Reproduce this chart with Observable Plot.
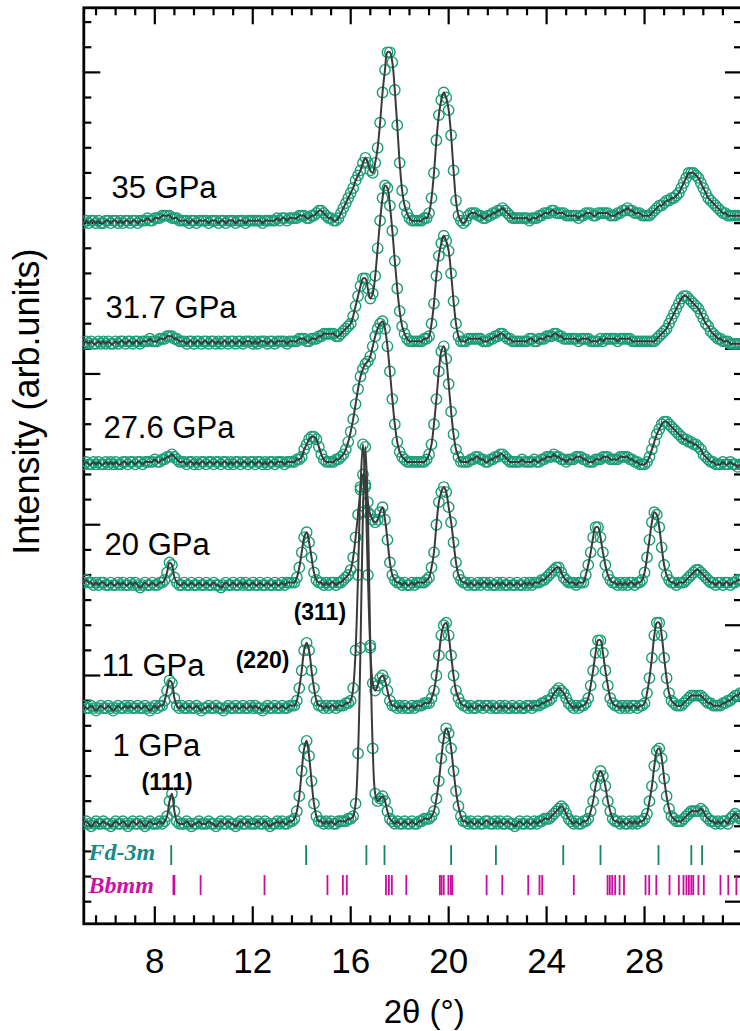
<!DOCTYPE html>
<html><head><meta charset="utf-8">
<script src="https://cdn.jsdelivr.net/npm/d3@7"></script>
<script src="https://cdn.jsdelivr.net/npm/@observablehq/plot@0.6"></script>
<style>
html,body{margin:0;padding:0;background:#fff;}
#chart{width:740px;height:1031px;overflow:hidden;}
</style></head><body><div id="chart"></div>
<script>
// measurement grid, 2θ (degrees)
const twoTheta = [
5.1,5.2,5.3,5.4,5.5,5.6,5.7,5.8,5.9,6.0,
6.1,6.2,6.3,6.4,6.5,6.6,6.7,6.8,6.9,7.0,
7.1,7.2,7.3,7.4,7.5,7.6,7.7,7.8,7.9,8.0,
8.1,8.2,8.3,8.4,8.5,8.6,8.7,8.8,8.9,9.0,
9.1,9.2,9.3,9.4,9.5,9.6,9.7,9.8,9.9,10.0,
10.1,10.2,10.3,10.4,10.5,10.6,10.7,10.8,10.9,11.0,
11.1,11.2,11.3,11.4,11.5,11.6,11.7,11.8,11.9,12.0,
12.1,12.2,12.3,12.4,12.5,12.6,12.7,12.8,12.9,13.0,
13.1,13.2,13.3,13.4,13.5,13.6,13.7,13.8,13.9,14.0,
14.1,14.2,14.3,14.4,14.5,14.6,14.7,14.8,14.9,15.0,
15.1,15.2,15.3,15.4,15.5,15.6,15.7,15.8,15.9,16.0,
16.1,16.2,16.3,16.4,16.5,16.6,16.7,16.8,16.9,17.0,
17.1,17.2,17.3,17.4,17.5,17.6,17.7,17.8,17.9,18.0,
18.1,18.2,18.3,18.4,18.5,18.6,18.7,18.8,18.9,19.0,
19.1,19.2,19.3,19.4,19.5,19.6,19.7,19.8,19.9,20.0,
20.1,20.2,20.3,20.4,20.5,20.6,20.7,20.8,20.9,21.0,
21.1,21.2,21.3,21.4,21.5,21.6,21.7,21.8,21.9,22.0,
22.1,22.2,22.3,22.4,22.5,22.6,22.7,22.8,22.9,23.0,
23.1,23.2,23.3,23.4,23.5,23.6,23.7,23.8,23.9,24.0,
24.1,24.2,24.3,24.4,24.5,24.6,24.7,24.8,24.9,25.0,
25.1,25.2,25.3,25.4,25.5,25.6,25.7,25.8,25.9,26.0,
26.1,26.2,26.3,26.4,26.5,26.6,26.7,26.8,26.9,27.0,
27.1,27.2,27.3,27.4,27.5,27.6,27.7,27.8,27.9,28.0,
28.1,28.2,28.3,28.4,28.5,28.6,28.7,28.8,28.9,29.0,
29.1,29.2,29.3,29.4,29.5,29.6,29.7,29.8,29.9,30.0,
30.1,30.2,30.3,30.4,30.5,30.6,30.7,30.8,30.9,31.0,
31.1,31.2,31.3,31.4,31.5,31.6,31.7,31.8,31.9,32.0];

// observed intensities (arb. units, above each pattern's own baseline)
const obs1GPa = [
0,1,0,-1,0,1,0,0,1,0, 0,-1,0,1,0,0,1,0,-1,0, 1,0,0,1,0,-1,0,1,0,0,
0,1,0,1,3,9,12,5,1,0, 0,0,1,0,-1,0,0,1,0,0, 0,1,0,0,-1,0,1,0,0,1,
0,0,-1,0,1,0,0,1,0,0, 0,1,0,0,1,0,-1,0,0,1, 0,1,0,0,1,1,2,5,11,21,
30,33,27,17,8,3,1,1,0,1, 0,1,0,0,1,1,1,1,2,2, 3,8,28,70,124,150,124,71,30,12,
9,10,11,9,5,2,1,0,1,0, 0,1,0,0,1,0,0,1,1,2, 2,2,3,5,10,17,26,34,38,36,
30,21,13,7,3,1,1,0,1,0, 0,1,0,0,1,1,0,0,1,0, 1,0,0,1,0,0,-1,0,1,0,
0,1,0,0,1,0,1,1,2,2, 2,3,4,5,6,7,6,4,2,1, 0,1,0,0,1,1,2,5,9,15,
19,21,19,15,9,5,2,1,1,0, 1,0,0,1,0,1,0,1,1,2, 4,9,15,23,29,30,26,18,11,6,
3,2,1,1,1,2,3,4,5,5, 5,5,6,5,3,2,1,1,0,1, 0,1,1,0,2,3,4,3,2,2];

const obs11GPa = [
1,0,0,1,0,-1,0,1,0,0, 1,0,-1,0,1,0,0,1,0,1, 0,0,1,0,0,1,0,-1,0,1,
0,1,1,3,7,11,10,4,1,0, 1,0,0,1,0,0,1,0,-1,0, 0,1,0,0,1,0,0,-1,0,1,
0,0,1,0,0,1,0,0,1,0, 1,0,0,-1,0,1,0,0,1,0, 0,1,0,0,1,1,1,3,8,15,
23,26,23,15,8,3,1,1,0,1, 0,1,1,0,1,1,1,2,2,3, 8,23,53,88,105,88,53,24,10,7,
9,12,13,11,7,3,1,1,0,1, 0,1,0,0,1,0,1,1,1,2, 2,2,4,7,13,21,29,33,34,29,
21,13,7,4,2,1,1,0,1,0, 0,1,1,0,1,1,0,1,0,0, 1,0,1,0,0,1,0,0,1,0,
0,1,1,0,1,1,1,2,2,3, 3,4,6,7,8,7,6,4,2,1, 0,1,0,1,1,2,4,9,15,22,
27,27,22,15,9,4,2,1,1,0, 1,0,1,0,1,1,0,1,1,2, 6,12,20,29,34,34,29,20,12,6,
3,2,1,1,1,2,3,4,5,5, 5,5,5,4,3,2,2,1,1,1, 1,2,2,3,3,4,5,5,6,6];

const obs20GPa = [
1,2,1,1,0,1,0,1,1,0, 0,1,0,0,1,0,1,0,0,1, 0,1,0,-1,0,1,0,0,1,0,
0,1,1,2,5,9,8,3,1,0, 0,1,0,0,1,0,0,1,0,0, 1,0,0,1,0,0,-1,0,1,0,
0,1,0,0,1,0,1,0,0,1, 0,0,1,0,0,1,0,0,1,0, 0,1,0,1,1,1,1,3,7,13,
19,21,17,11,5,2,1,1,0,1, 0,1,1,0,1,1,2,3,4,6, 11,19,28,38,44,40,33,28,26,25,
26,29,31,26,18,9,4,2,1,1, 0,1,0,0,1,0,1,1,1,1, 2,3,7,13,24,33,37,39,37,31,
25,17,9,4,2,1,1,0,1,0, 0,1,0,1,1,0,1,0,0,1, 0,1,0,0,1,0,0,1,0,0,
1,0,1,0,1,1,1,2,2,3, 4,5,6,7,7,5,3,2,1,1, 1,0,1,1,1,4,8,13,19,23,
23,19,13,8,4,2,1,1,0,1, 0,1,0,1,1,0,1,1,2,5, 11,18,25,29,28,23,15,8,4,2,
1,1,0,1,1,1,2,3,4,5, 6,6,5,4,3,2,1,1,0,1, 1,0,1,1,0,1,1,2,2,2];

const obs27GPa = [
0,1,0,0,1,0,1,0,0,1, 0,1,0,1,0,0,1,1,0,1, 1,0,1,1,0,1,1,1,1,2,
1,1,2,2,3,3,4,3,2,1, 1,1,0,1,1,0,1,0,1,1, 0,1,1,0,1,1,0,1,1,0,
1,0,1,1,0,1,1,0,1,1, 0,1,1,0,1,0,1,1,0,1, 1,1,0,1,1,1,1,2,2,3,
6,8,10,11,11,10,7,4,2,1, 1,1,1,2,2,3,4,6,9,13, 18,24,30,35,38,40,41,43,47,51,
54,56,57,54,47,37,26,16,9,5, 3,2,1,1,1,1,1,1,1,1, 2,4,8,16,26,37,45,47,42,32,
21,12,6,3,1,1,1,1,2,2, 3,3,2,2,1,1,2,2,3,3, 4,4,3,2,1,1,1,1,1,2,
1,1,1,1,2,1,1,2,2,3, 3,3,4,3,3,2,2,1,2,2, 2,3,3,3,2,2,1,1,1,2,
2,2,3,3,3,2,2,2,2,3, 3,3,3,2,2,1,1,0,0,0, 1,3,6,9,12,14,16,17,17,16,
15,14,13,12,11,10,10,9,9,8, 8,7,6,4,3,2,1,1,0,0, 0,1,0,0,1,0,0,-1,0,0];

const obs31GPa = [
0,1,0,1,0,0,1,0,1,0, 1,0,0,1,0,1,1,0,1,1, 0,1,1,0,1,1,1,2,1,1,
1,2,2,2,3,3,3,2,2,1, 1,1,0,1,1,0,1,1,0,1, 1,0,1,1,0,1,0,1,1,0,
1,1,0,1,1,0,1,1,1,0, 1,0,1,1,1,0,1,1,0,1, 1,1,1,0,1,1,1,1,2,2,
2,1,1,2,2,2,3,3,4,4, 4,4,4,3,3,4,5,6,7,8, 11,15,19,23,26,26,22,18,20,27,
38,49,58,63,62,55,45,33,22,13, 7,4,2,1,1,1,1,1,1,2, 2,3,8,16,27,35,40,43,41,37,
28,17,8,3,1,1,1,2,2,2, 2,2,2,1,1,1,2,2,3,3, 4,4,3,2,2,1,1,1,1,1,
1,1,2,2,1,1,2,2,2,3, 3,3,4,4,3,3,2,2,2,2, 2,2,1,2,2,2,2,1,1,1,
1,2,1,2,2,2,2,2,1,2, 2,2,2,2,1,1,1,1,1,1, 1,1,1,1,2,3,4,5,6,8,
10,12,14,16,18,19,19,18,17,16, 15,14,12,10,8,7,5,4,3,2, 2,1,1,1,0,0,0,0,0,0];

const obs35GPa = [
0,1,0,1,1,0,1,0,0,1, 1,0,1,1,0,1,0,1,1,0, 1,1,0,1,1,1,2,1,1,2,
2,2,3,3,3,3,2,2,2,1, 1,1,1,0,1,1,0,1,1,1, 1,0,1,1,1,0,1,1,0,1,
1,1,0,1,1,1,0,1,1,1, 1,1,1,0,1,1,1,1,1,2, 1,2,2,1,2,2,2,2,3,3,
3,2,2,3,3,4,5,5,4,3, 2,2,1,1,2,4,6,8,10,12, 14,17,19,21,24,26,24,21,20,24,
30,40,52,61,68,68,64,53,39,24, 13,7,4,2,1,1,1,1,1,2, 2,4,10,20,33,43,49,52,50,45,
35,21,9,3,1,0,1,3,4,4, 4,3,3,2,2,3,3,4,4,5, 5,6,5,4,3,2,2,2,2,2,
2,2,1,2,2,2,3,3,4,4, 4,5,5,4,4,4,4,3,3,3, 3,3,2,3,3,4,4,4,3,3,
4,4,4,4,4,3,3,3,4,4, 5,5,6,5,5,4,4,4,3,3, 3,3,4,5,6,7,7,8,9,9,
10,10,11,12,14,16,18,20,20,20, 19,18,16,14,12,10,9,8,7,6, 5,4,4,3,3,3,3,3,3,3];

// stacking: pattern names and vertical offsets (arb. units)
const pressures = ["1 GPa", "11 GPa", "20 GPa", "27.6 GPa", "31.7 GPa", "35 GPa"];
const offsets = [1, 47, 96, 144, 192, 240];
const series = [obs1GPa, obs11GPa, obs20GPa, obs27GPa, obs31GPa, obs35GPa];

// pressure label anchors (2θ, arb. units)
const labelTheta = [6.27, 5.83, 5.95, 5.9, 5.99, 6.23];
const labelY = [28.1, 60, 108.1, 154.7, 202.4, 250.2];

// Miller index labels
const hklText = ["(111)", "(220)", "(311)"];
const hklTheta = [8.5, 12.4, 14.74];
const hklY = [14.6, 62.8, 81.9];

// reflection markers
const fd3mTicks = [8.67, 14.18, 16.64, 17.38, 20.1, 21.93, 24.68, 26.2, 28.57, 29.91, 30.35];
const bbmmTicks = [8.76, 8.8, 9.87, 12.48, 15.05, 15.68, 15.84, 17.44, 17.56, 17.68, 18.27,
  19.64, 19.71, 19.8, 19.99, 20.09, 20.15, 21.55, 22.19, 23.25, 23.71, 23.82, 25.11,
  26.49, 26.58, 26.68, 26.8, 26.98, 27.16, 28.04, 28.19, 28.48, 29.02, 29.4, 29.59,
  29.71, 29.81, 29.91, 29.99, 30.2, 30.42, 31.1, 31.42, 31.75];

// axis ticks
const xMajorTicks = [8, 12, 16, 20, 24, 28];
const xMinorTicks = [5.6, 6.4, 7.2, 8.8, 9.6, 10.4, 11.2, 12.8, 13.6, 14.4, 15.2, 16.8, 17.6,
  18.4, 19.2, 20.8, 21.6, 22.4, 23.2, 24.8, 25.6, 26.4, 27.2, 28.8, 29.6, 30.4, 31.2];
const yMajorTicks = [0, 60, 120, 180, 240, 300];
const yMinorTicks = [-30, -20, -10, 10, 20, 30, 40, 50, 70, 80, 90, 100, 110, 130, 140, 150,
  160, 170, 190, 200, 210, 220, 230, 250, 260, 270, 280, 290, 310, 320];
const yRightMajor = [300, 190, 80, -30];
const yRightMinor = [-20, -10, 0, 10, 20, 30, 40, 50, 60, 70, 90, 100, 110, 120, 130, 140, 150,
  160, 170, 180, 200, 210, 220, 230, 240, 250, 260, 270, 280, 290, 310, 320];

// ---------- build table ----------
const rows = [];
series.forEach((vals, k) => {
  vals.forEach((v, i) => {
    if (i < twoTheta.length) rows.push({p: pressures[k], t: twoTheta[i], y: offsets[k] + v});
  });
});
const labels = pressures.map((s, i) => ({s, x: labelTheta[i], y: labelY[i]}));
const hkl = hklText.map((s, i) => ({s, x: hklTheta[i], y: hklY[i]}));

const W = 740, H = 1031;
const mL = 83.3, mR = -2, mT = 7.3, mB = 107.7;
const fw = W - mL - mR, fh = H - mT - mB;
const sans = "'Liberation Sans', Arial, Helvetica, sans-serif";
const serif = "'Liberation Serif', 'Times New Roman', serif";
const green = "#1b9e77";

const chart = Plot.plot({
  width: W, height: H,
  marginLeft: mL, marginRight: mR, marginTop: mT, marginBottom: mB,
  x: {domain: [5.1, 32], axis: null},
  y: {domain: [-38.8, 325.7], axis: null},
  style: {fontFamily: sans, background: "#fff", color: "#000", overflow: "hidden"},
  marks: [
    // inward ticks
    Plot.tickX(xMajorTicks, {x: d => d, insetTop: fh - 17, stroke: "#000", strokeWidth: 2.2}),
    Plot.tickX(xMinorTicks, {x: d => d, insetTop: fh - 8, stroke: "#000", strokeWidth: 2.2}),
    Plot.tickX(xMajorTicks, {x: d => d, insetBottom: fh - 17, stroke: "#000", strokeWidth: 2.2}),
    Plot.tickX(xMinorTicks, {x: d => d, insetBottom: fh - 8, stroke: "#000", strokeWidth: 2.2}),
    Plot.tickY(yMajorTicks, {y: d => d, insetRight: fw - 17, stroke: "#000", strokeWidth: 2.2}),
    Plot.tickY(yMinorTicks, {y: d => d, insetRight: fw - 8, stroke: "#000", strokeWidth: 2.2}),
    Plot.tickY(yRightMajor, {y: d => d, insetLeft: fw - 17, stroke: "#000", strokeWidth: 2.2}),
    Plot.tickY(yRightMinor, {y: d => d, insetLeft: fw - 8, stroke: "#000", strokeWidth: 2.2}),
    Plot.frame({stroke: "#000", strokeWidth: 2.8}),
    // tick labels
    Plot.text(xMajorTicks, {x: d => d, frameAnchor: "bottom", dy: 24, lineAnchor: "top",
      text: d => String(d), fontSize: 35, fill: "#000"}),
    // reflection markers
    Plot.ruleX(fd3mTicks, {x: d => d, y1: -7.7, y2: -15.6, stroke: "#12875f", strokeWidth: 1.8}),
    Plot.ruleX(bbmmTicks, {x: d => d, y1: -19.6, y2: -27.6, stroke: "#cc0a9e", strokeWidth: 1.8}),
    Plot.text(["Fd-3m"], {x: 5.29, y: -13.6, text: d => d, textAnchor: "start", lineAnchor: "bottom",
      fontFamily: serif, fontStyle: "italic", fontWeight: "bold", fontSize: 24, fill: "#17898a"}),
    Plot.text(["Bbmm"], {x: 5.29, y: -26.7, text: d => d, textAnchor: "start", lineAnchor: "bottom",
      fontFamily: serif, fontStyle: "italic", fontWeight: "bold", fontSize: 24, fill: "#cc12a6"}),
    // data
    Plot.dot(rows, {x: "t", y: "y", r: 5.2, stroke: green, strokeWidth: 1.4, fill: "none", clip: true}),
    Plot.line(rows, {x: "t", y: "y", z: "p", stroke: "#3a3a3a", strokeWidth: 2, curve: "catmull-rom", clip: true}),
    // labels
    Plot.text(labels, {x: "x", y: "y", text: "s", textAnchor: "start", lineAnchor: "bottom",
      fontSize: 31, fill: "#000"}),
    Plot.text(hkl, {x: "x", y: "y", text: "s", textAnchor: "middle", lineAnchor: "bottom",
      fontSize: 23, fontWeight: "bold", fill: "#000"}),
    // axis titles
    Plot.text(["2θ (°)"], {x: 19.0, frameAnchor: "bottom", dy: 99, text: d => d, lineAnchor: "bottom",
      fontSize: 33, fill: "#000"}),
    Plot.text(["Intensity (arb.units)"], {y: 169, frameAnchor: "left", dx: -56, rotate: -90,
      text: d => d, textAnchor: "middle", lineAnchor: "middle", fontSize: 36, fill: "#000"})
  ]
});
document.getElementById("chart").appendChild(chart);
</script>
</body></html>
